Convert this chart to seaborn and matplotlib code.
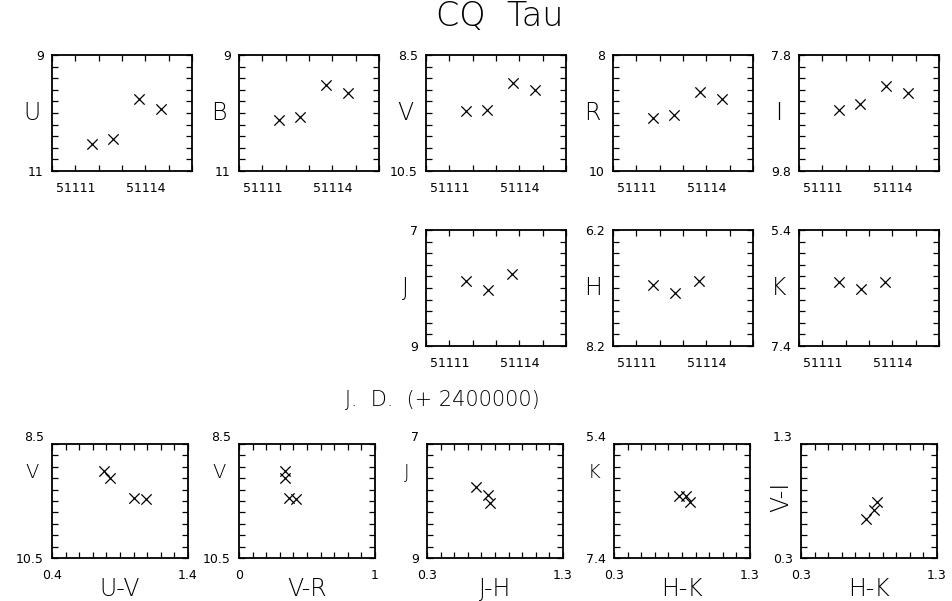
import numpy as np
import matplotlib
matplotlib.use('Agg')
import matplotlib.pyplot as plt
import seaborn as sns

# ---- light curves (JD - 2400000) ----
jd_opt = [51111.70, 51112.63, 51113.74, 51114.65]
mag_U = [10.54, 10.45, 9.76, 9.93]
mag_B = [10.12, 10.07, 9.51, 9.66]
mag_V = [9.46, 9.44, 8.99, 9.10]
mag_R = [9.09, 9.03, 8.63, 8.76]
mag_I = [8.74, 8.64, 8.33, 8.46]

jd_ir = [51111.71, 51112.65, 51113.70]
mag_J = [7.88, 8.03, 7.75]
mag_H = [7.14, 7.28, 7.08]
mag_K = [6.29, 6.42, 6.30]

# ---- colour-magnitude / colour-colour ----
col_UV = [1.09, 1.00, 0.78, 0.83]
cmd_V_uv = [9.46, 9.45, 8.97, 9.10]
col_VR = [0.42, 0.37, 0.34, 0.34]
cmd_V_vr = [9.46, 9.45, 8.97, 9.10]
col_JH = [0.66, 0.75, 0.76]
cmd_J = [7.75, 7.89, 8.03]
col_HK = [0.78, 0.83, 0.86]
cmd_K = [6.31, 6.31, 6.41]
col_HK2 = [0.78, 0.84, 0.86]
col_VI = [0.64, 0.72, 0.79]

jd_labels = ['', '51111', '', '', '51114', '', '']

sns.set_theme(style='ticks')
plt.rcParams['font.family'] = ['DejaVu Sans']
plt.rcParams['text.color'] = 'black'
LW = 'light'   # thin strokes for the big labels

W, H = 952, 601
fig = plt.figure(figsize=(W / 100, H / 100), dpi=100)


def px_axes(x0, y0, x1, y1):
    return fig.add_axes([x0 / W, 1 - y1 / H, (x1 - x0) / W, (y1 - y0) / H])


def draw_panel(ax, x, y, xlim, xticks, xlabels, ylim, ylabels, top_up=False):
    sns.scatterplot(x=x, y=y, ax=ax, marker='x', color='black', s=55,
                    linewidth=0.9, legend=False, zorder=3)
    ax.set_xlim(*xlim)
    ax.set_ylim(*ylim)
    ax.set_xticks(xticks)
    ax.set_xticklabels(xlabels)
    yt = np.linspace(ylim[0], ylim[1], 11)
    ax.set_yticks(yt)
    lab = [''] * 11
    lab[0], lab[-1] = ylabels[1], ylabels[0]
    ax.set_yticklabels(lab)
    ax.tick_params(direction='in', length=4, width=0.9, labelsize=9,
                   colors='black', top=True, right=True, bottom=True, left=True)
    ax.tick_params(axis='x', pad=8)
    ax.tick_params(axis='y', pad=6)
    if top_up:
        ax.get_yticklabels()[-1].set_va('bottom')
    for s in ax.spines.values():
        s.set_linewidth(1.3)
        s.set_color('black')
    ax.set_xlabel('')
    ax.set_ylabel('')
    ax.grid(False)


# top row: UBVRI light curves
top_left = [52, 239, 426, 613, 799]
top_data = [('U', mag_U, (11, 9), ['9', '11']),
            ('B', mag_B, (11, 9), ['9', '11']),
            ('V', mag_V, (10.5, 8.5), ['8.5', '10.5']),
            ('R', mag_R, (10, 8), ['8', '10']),
            ('I', mag_I, (9.8, 7.8), ['7.8', '9.8'])]
jd_ticks = np.arange(51110, 51117)
for x0, (name, mags, ylim, ylab) in zip(top_left, top_data):
    ax = px_axes(x0, 55, x0 + 140, 171)
    draw_panel(ax, jd_opt, mags, (51110, 51116), jd_ticks, jd_labels, ylim, ylab)
    ax.text(-0.145, 0.5, name, transform=ax.transAxes, fontsize=17,
            fontweight=LW, ha='center', va='center')

# middle row: JHK light curves
mid_data = [('J', mag_J, (9, 7), ['7', '9']),
            ('H', mag_H, (8.2, 6.2), ['6.2', '8.2']),
            ('K', mag_K, (7.4, 5.4), ['5.4', '7.4'])]
for x0, (name, mags, ylim, ylab) in zip(top_left[2:], mid_data):
    ax = px_axes(x0, 230, x0 + 140, 346)
    draw_panel(ax, jd_ir, mags, (51110, 51116), jd_ticks, jd_labels, ylim, ylab)
    ax.text(-0.145, 0.5, name, transform=ax.transAxes, fontsize=17,
            fontweight=LW, ha='center', va='center')

fig.text(442 / W, 1 - 400 / H, 'J.  D.  (+ 2400000)', fontsize=15,
         fontweight=LW, ha='center', va='center')
fig.text(500 / W, 1 - 16 / H, 'CQ  Tau', fontsize=24, fontweight=LW,
         ha='center', va='center')

# bottom row: colour plots
bot_left = [52, 239, 427, 614, 801]
bot_data = [(col_UV, cmd_V_uv, (0.4, 1.4), ['0.4', '1.4'], (10.5, 8.5), ['8.5', '10.5'], 'U-V', 'V'),
            (col_VR, cmd_V_vr, (0, 1), ['0', '1'], (10.5, 8.5), ['8.5', '10.5'], 'V-R', 'V'),
            (col_JH, cmd_J, (0.3, 1.3), ['0.3', '1.3'], (9, 7), ['7', '9'], 'J-H', 'J'),
            (col_HK, cmd_K, (0.3, 1.3), ['0.3', '1.3'], (7.4, 5.4), ['5.4', '7.4'], 'H-K', 'K'),
            (col_HK2, col_VI, (0.3, 1.3), ['0.3', '1.3'], (0.3, 1.3), ['1.3', '0.3'], 'H-K', 'V-I')]
for x0, (xs, ys, xlim, xlab, ylim, ylab, xname, yname) in zip(bot_left, bot_data):
    ax = px_axes(x0, 444, x0 + 136, 558)
    xt = np.linspace(xlim[0], xlim[1], 11)
    xl = [''] * 11
    xl[0], xl[-1] = xlab
    draw_panel(ax, xs, ys, xlim, xt, xl, ylim, ylab, top_up=True)
    ax.text(0.5, -0.27, xname, transform=ax.transAxes, fontsize=17,
            fontweight=LW, ha='center', va='center')
    if yname == 'V-I':
        ax.text(-0.147, 0.54, yname, transform=ax.transAxes, fontsize=17,
                fontweight=LW, ha='center', va='center', rotation=90)
    else:
        ax.text(-0.147, 0.75, yname, transform=ax.transAxes, fontsize=14,
                fontweight=LW, ha='center', va='center')

fig.savefig('out.png', dpi=100, facecolor='white')
